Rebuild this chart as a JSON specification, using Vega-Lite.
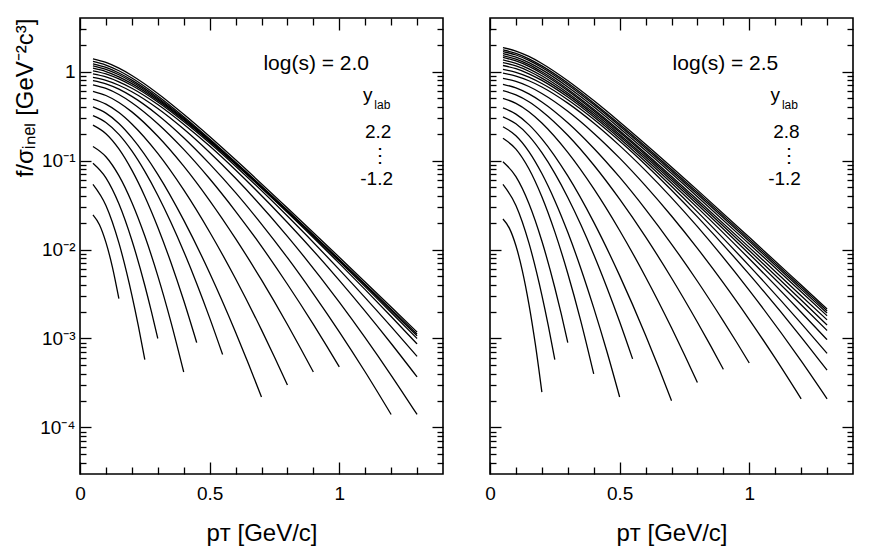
{
"$schema": "https://vega.github.io/schema/vega-lite/v6.json",
"padding": {"left": 12, "top": 16, "right": 5, "bottom": 5},
"background": "white",
"config": {
 "font": "Liberation Sans",
 "view": {"stroke": "black", "strokeWidth": 1.6},
 "axis": {"domain": false, "grid": false, "tickColor": "black", "tickWidth": 1.3, "labelColor": "black", "titleColor": "black", "labelFont": "Liberation Sans", "titleFont": "Liberation Sans", "titleFontWeight": "normal", "labelFlush": false, "labelOverlap": false}
},
"spacing": 47,
"bounds": "flush",
"datasets": {
"L": [
{"c":1,"p":0.05,"f":0.0245},{"c":1,"p":0.075,"f":0.019},{"c":1,"p":0.1,"f":0.01202},{"c":1,"p":0.125,"f":0.00635},{"c":1,"p":0.15,"f":0.0028},
{"c":2,"p":0.05,"f":0.054},{"c":2,"p":0.1,"f":0.03126},{"c":2,"p":0.15,"f":0.01186},{"c":2,"p":0.2,"f":0.003076},{"c":2,"p":0.225,"f":0.001387},{"c":2,"p":0.25,"f":0.00058},
{"c":3,"p":0.05,"f":0.093},{"c":3,"p":0.1,"f":0.0638},{"c":3,"p":0.15,"f":0.0326},{"c":3,"p":0.2,"f":0.0127},{"c":3,"p":0.25,"f":0.00394},{"c":3,"p":0.275,"f":0.00203},{"c":3,"p":0.3,"f":0.001},
{"c":4,"p":0.05,"f":0.144},{"c":4,"p":0.1,"f":0.1104},{"c":4,"p":0.15,"f":0.0676},{"c":4,"p":0.2,"f":0.0338},{"c":4,"p":0.25,"f":0.01416},{"c":4,"p":0.3,"f":0.00506},{"c":4,"p":0.35,"f":0.00156},{"c":4,"p":0.4,"f":0.00042},
{"c":5,"p":0.05,"f":0.25},{"c":5,"p":0.1,"f":0.2004},{"c":5,"p":0.15,"f":0.1352},{"c":5,"p":0.2,"f":0.078},{"c":5,"p":0.25,"f":0.0395},{"c":5,"p":0.3,"f":0.01782},{"c":5,"p":0.35,"f":0.00724},{"c":5,"p":0.4,"f":0.00267},{"c":5,"p":0.45,"f":0.0009},
{"c":6,"p":0.05,"f":0.32},{"c":6,"p":0.1,"f":0.268},{"c":6,"p":0.15,"f":0.1968},{"c":6,"p":0.2,"f":0.1282},{"c":6,"p":0.25,"f":0.0755},{"c":6,"p":0.3,"f":0.0408},{"c":6,"p":0.35,"f":0.0204},{"c":6,"p":0.4,"f":0.00953},{"c":6,"p":0.45,"f":0.00416},{"c":6,"p":0.5,"f":0.001706},{"c":6,"p":0.55,"f":0.00066},
{"c":7,"p":0.05,"f":0.40},{"c":7,"p":0.1,"f":0.341},{"c":7,"p":0.15,"f":0.261},{"c":7,"p":0.2,"f":0.181},{"c":7,"p":0.3,"f":0.070},{"c":7,"p":0.4,"f":0.0214},{"c":7,"p":0.5,"f":0.00545},{"c":7,"p":0.6,"f":0.001178},{"c":7,"p":0.65,"f":0.000518},{"c":7,"p":0.7,"f":0.00022},
{"c":8,"p":0.05,"f":0.49},{"c":8,"p":0.1,"f":0.4305},{"c":8,"p":0.15,"f":0.346},{"c":8,"p":0.2,"f":0.2576},{"c":8,"p":0.3,"f":0.1202},{"c":8,"p":0.4,"f":0.0467},{"c":8,"p":0.5,"f":0.01574},{"c":8,"p":0.6,"f":0.00469},{"c":8,"p":0.7,"f":0.00125},{"c":8,"p":0.75,"f":0.000619},{"c":8,"p":0.8,"f":0.0003},
{"c":9,"p":0.05,"f":0.60},{"c":9,"p":0.1,"f":0.5383},{"c":9,"p":0.15,"f":0.4498},{"c":9,"p":0.2,"f":0.3524},{"c":9,"p":0.3,"f":0.1875},{"c":9,"p":0.4,"f":0.0865},{"c":9,"p":0.5,"f":0.0355},{"c":9,"p":0.6,"f":0.01327},{"c":9,"p":0.7,"f":0.00455},{"c":9,"p":0.8,"f":0.001436},{"c":9,"p":0.85,"f":0.000783},{"c":9,"p":0.9,"f":0.00042},
{"c":10,"p":0.05,"f":0.71},{"c":10,"p":0.1,"f":0.6457},{"c":10,"p":0.15,"f":0.5521},{"c":10,"p":0.2,"f":0.4467},{"c":10,"p":0.3,"f":0.2594},{"c":10,"p":0.4,"f":0.1334},{"c":10,"p":0.5,"f":0.0624},{"c":10,"p":0.6,"f":0.0269},{"c":10,"p":0.7,"f":0.01084},{"c":10,"p":0.8,"f":0.00407},{"c":10,"p":0.9,"f":0.001442},{"c":10,"p":0.95,"f":0.000839},{"c":10,"p":1.0,"f":0.00048},
{"c":11,"p":0.05,"f":0.79},{"c":11,"p":0.1,"f":0.7278},{"c":11,"p":0.15,"f":0.6339},{"c":11,"p":0.2,"f":0.526},{"c":11,"p":0.3,"f":0.3258},{"c":11,"p":0.4,"f":0.1807},{"c":11,"p":0.5,"f":0.0918},{"c":11,"p":0.6,"f":0.0436},{"c":11,"p":0.7,"f":0.01932},{"c":11,"p":0.8,"f":0.00809},{"c":11,"p":0.9,"f":0.00318},{"c":11,"p":1.0,"f":0.001189},{"c":11,"p":1.1,"f":0.00042},{"c":11,"p":1.2,"f":0.00014},
{"c":12,"p":0.05,"f":0.86},{"c":12,"p":0.1,"f":0.796},{"c":12,"p":0.15,"f":0.7015},{"c":12,"p":0.2,"f":0.593},{"c":12,"p":0.3,"f":0.3846},{"c":12,"p":0.4,"f":0.226},{"c":12,"p":0.5,"f":0.1233},{"c":12,"p":0.6,"f":0.0632},{"c":12,"p":0.8,"f":0.01406},{"c":12,"p":1.0,"f":0.00256},{"c":12,"p":1.2,"f":0.000386},{"c":12,"p":1.3,"f":0.00014},
{"c":13,"p":0.05,"f":0.94},{"c":13,"p":0.1,"f":0.869},{"c":13,"p":0.15,"f":0.7674},{"c":13,"p":0.2,"f":0.6501},{"c":13,"p":0.3,"f":0.4266},{"c":13,"p":0.4,"f":0.2564},{"c":13,"p":0.5,"f":0.1455},{"c":13,"p":0.6,"f":0.0783},{"c":13,"p":0.8,"f":0.02014},{"c":13,"p":1.0,"f":0.0045},{"c":13,"p":1.2,"f":0.000879},{"c":13,"p":1.3,"f":0.00037},
{"c":14,"p":0.05,"f":1.02},{"c":14,"p":0.1,"f":0.9419},{"c":14,"p":0.15,"f":0.826},{"c":14,"p":0.2,"f":0.6966},{"c":14,"p":0.3,"f":0.455},{"c":14,"p":0.4,"f":0.2742},{"c":14,"p":0.5,"f":0.157},{"c":14,"p":0.6,"f":0.0863},{"c":14,"p":0.8,"f":0.02377},{"c":14,"p":1.0,"f":0.00594},{"c":14,"p":1.2,"f":0.001358},{"c":14,"p":1.3,"f":0.00063},
{"c":15,"p":0.05,"f":1.09},{"c":15,"p":0.1,"f":1.0},{"c":15,"p":0.15,"f":0.873},{"c":15,"p":0.2,"f":0.7328},{"c":15,"p":0.3,"f":0.4742},{"c":15,"p":0.4,"f":0.2851},{"c":15,"p":0.5,"f":0.1637},{"c":15,"p":0.6,"f":0.0908},{"c":15,"p":0.8,"f":0.02606},{"c":15,"p":1.0,"f":0.00698},{"c":15,"p":1.2,"f":0.001766},{"c":15,"p":1.3,"f":0.00087},
{"c":16,"p":0.05,"f":1.16},{"c":16,"p":0.1,"f":1.059},{"c":16,"p":0.15,"f":0.9204},{"c":16,"p":0.2,"f":0.7691},{"c":16,"p":0.3,"f":0.4909},{"c":16,"p":0.4,"f":0.2924},{"c":16,"p":0.5,"f":0.1663},{"c":16,"p":0.6,"f":0.092},{"c":16,"p":0.8,"f":0.02667},{"c":16,"p":1.0,"f":0.00736},{"c":16,"p":1.2,"f":0.001959},{"c":16,"p":1.3,"f":0.001},
{"c":17,"p":0.05,"f":1.22},{"c":17,"p":0.1,"f":1.112},{"c":17,"p":0.15,"f":0.9638},{"c":17,"p":0.2,"f":0.8017},{"c":17,"p":0.3,"f":0.5082},{"c":17,"p":0.4,"f":0.2999},{"c":17,"p":0.5,"f":0.1702},{"c":17,"p":0.6,"f":0.0938},{"c":17,"p":0.8,"f":0.02723},{"c":17,"p":1.0,"f":0.00759},{"c":17,"p":1.2,"f":0.002065},{"c":17,"p":1.3,"f":0.00107},
{"c":18,"p":0.05,"f":1.30},{"c":18,"p":0.1,"f":1.183},{"c":18,"p":0.15,"f":1.021},{"c":18,"p":0.2,"f":0.8453},{"c":18,"p":0.3,"f":0.5309},{"c":18,"p":0.4,"f":0.3105},{"c":18,"p":0.5,"f":0.1746},{"c":18,"p":0.6,"f":0.0957},{"c":18,"p":0.8,"f":0.0276},{"c":18,"p":1.0,"f":0.00774},{"c":18,"p":1.2,"f":0.002138},{"c":18,"p":1.3,"f":0.00112},
{"c":19,"p":0.05,"f":1.39},{"c":19,"p":0.1,"f":1.265},{"c":19,"p":0.15,"f":1.091},{"c":19,"p":0.2,"f":0.9036},{"c":19,"p":0.3,"f":0.5675},{"c":19,"p":0.4,"f":0.3311},{"c":19,"p":0.5,"f":0.1862},{"c":19,"p":0.6,"f":0.1019},{"c":19,"p":0.8,"f":0.0293},{"c":19,"p":1.0,"f":0.0082},{"c":19,"p":1.2,"f":0.00226},{"c":19,"p":1.3,"f":0.00118}
],
"R": [
{"c":1,"p":0.05,"f":0.022},{"c":1,"p":0.075,"f":0.0173},{"c":1,"p":0.1,"f":0.01102},{"c":1,"p":0.125,"f":0.00573},{"c":1,"p":0.15,"f":0.00244},{"c":1,"p":0.175,"f":0.000857},{"c":1,"p":0.2,"f":0.00025},
{"c":2,"p":0.05,"f":0.054},{"c":2,"p":0.1,"f":0.03126},{"c":2,"p":0.15,"f":0.01186},{"c":2,"p":0.2,"f":0.003076},{"c":2,"p":0.225,"f":0.001387},{"c":2,"p":0.25,"f":0.00058},
{"c":3,"p":0.05,"f":0.097},{"c":3,"p":0.1,"f":0.0659},{"c":3,"p":0.15,"f":0.0329},{"c":3,"p":0.2,"f":0.01245},{"c":3,"p":0.25,"f":0.00372},{"c":3,"p":0.275,"f":0.001875},{"c":3,"p":0.3,"f":0.0009},
{"c":4,"p":0.05,"f":0.178},{"c":4,"p":0.1,"f":0.1346},{"c":4,"p":0.15,"f":0.0809},{"c":4,"p":0.2,"f":0.0392},{"c":4,"p":0.25,"f":0.01578},{"c":4,"p":0.3,"f":0.00538},{"c":4,"p":0.35,"f":0.001578},{"c":4,"p":0.4,"f":0.0004},
{"c":5,"p":0.05,"f":0.24},{"c":5,"p":0.1,"f":0.1901},{"c":5,"p":0.15,"f":0.1262},{"c":5,"p":0.2,"f":0.0714},{"c":5,"p":0.25,"f":0.0354},{"c":5,"p":0.3,"f":0.0156},{"c":5,"p":0.35,"f":0.00617},{"c":5,"p":0.4,"f":0.00221},{"c":5,"p":0.45,"f":0.000728},{"c":5,"p":0.5,"f":0.00022},
{"c":6,"p":0.05,"f":0.31},{"c":6,"p":0.1,"f":0.2588},{"c":6,"p":0.15,"f":0.1892},{"c":6,"p":0.2,"f":0.1225},{"c":6,"p":0.25,"f":0.0718},{"c":6,"p":0.3,"f":0.0385},{"c":6,"p":0.35,"f":0.0191},{"c":6,"p":0.4,"f":0.00881},{"c":6,"p":0.45,"f":0.0038},{"c":6,"p":0.5,"f":0.001545},{"c":6,"p":0.55,"f":0.00059},
{"c":7,"p":0.05,"f":0.39},{"c":7,"p":0.1,"f":0.3327},{"c":7,"p":0.15,"f":0.2535},{"c":7,"p":0.2,"f":0.1754},{"c":7,"p":0.3,"f":0.0671},{"c":7,"p":0.4,"f":0.0203},{"c":7,"p":0.5,"f":0.00509},{"c":7,"p":0.6,"f":0.001089},{"c":7,"p":0.65,"f":0.000475},{"c":7,"p":0.7,"f":0.0002},
{"c":8,"p":0.05,"f":0.5},{"c":8,"p":0.1,"f":0.4395},{"c":8,"p":0.15,"f":0.354},{"c":8,"p":0.2,"f":0.2642},{"c":8,"p":0.3,"f":0.1236},{"c":8,"p":0.4,"f":0.0483},{"c":8,"p":0.5,"f":0.01637},{"c":8,"p":0.6,"f":0.00492},{"c":8,"p":0.7,"f":0.001321},{"c":8,"p":0.75,"f":0.000658},{"c":8,"p":0.8,"f":0.00032},
{"c":9,"p":0.05,"f":0.61},{"c":9,"p":0.1,"f":0.547},{"c":9,"p":0.15,"f":0.4581},{"c":9,"p":0.2,"f":0.3589},{"c":9,"p":0.3,"f":0.1923},{"c":9,"p":0.4,"f":0.0891},{"c":9,"p":0.5,"f":0.0368},{"c":9,"p":0.6,"f":0.01387},{"c":9,"p":0.7,"f":0.00479},{"c":9,"p":0.8,"f":0.001524},{"c":9,"p":0.85,"f":0.000836},{"c":9,"p":0.9,"f":0.00045},
{"c":10,"p":0.05,"f":0.72},{"c":10,"p":0.1,"f":0.6546},{"c":10,"p":0.15,"f":0.561},{"c":10,"p":0.2,"f":0.456},{"c":10,"p":0.3,"f":0.2661},{"c":10,"p":0.4,"f":0.1377},{"c":10,"p":0.5,"f":0.065},{"c":10,"p":0.6,"f":0.0283},{"c":10,"p":0.7,"f":0.01153},{"c":10,"p":0.8,"f":0.0044},{"c":10,"p":0.9,"f":0.00157},{"c":10,"p":0.95,"f":0.00092},{"c":10,"p":1.0,"f":0.00053},
{"c":11,"p":0.05,"f":0.84},{"c":11,"p":0.1,"f":0.7745},{"c":11,"p":0.15,"f":0.6792},{"c":11,"p":0.2,"f":0.5675},{"c":11,"p":0.3,"f":0.3581},{"c":11,"p":0.4,"f":0.2032},{"c":11,"p":0.5,"f":0.1064},{"c":11,"p":0.6,"f":0.0519},{"c":11,"p":0.7,"f":0.0238},{"c":11,"p":0.8,"f":0.0103},{"c":11,"p":0.9,"f":0.00422},{"c":11,"p":1.0,"f":0.001633},{"c":11,"p":1.1,"f":0.000601},{"c":11,"p":1.2,"f":0.00021},
{"c":12,"p":0.05,"f":0.96},{"c":12,"p":0.1,"f":0.8913},{"c":12,"p":0.15,"f":0.7889},{"c":12,"p":0.2,"f":0.6714},{"c":12,"p":0.3,"f":0.4416},{"c":12,"p":0.4,"f":0.2642},{"c":12,"p":0.5,"f":0.1472},{"c":12,"p":0.6,"f":0.0771},{"c":12,"p":0.8,"f":0.01807},{"c":12,"p":1.0,"f":0.00348},{"c":12,"p":1.2,"f":0.00056},{"c":12,"p":1.3,"f":0.00021},
{"c":13,"p":0.05,"f":1.06},{"c":13,"p":0.1,"f":0.9795},{"c":13,"p":0.15,"f":0.865},{"c":13,"p":0.2,"f":0.7345},{"c":13,"p":0.3,"f":0.4831},{"c":13,"p":0.4,"f":0.2917},{"c":13,"p":0.5,"f":0.166},{"c":13,"p":0.6,"f":0.0899},{"c":13,"p":0.8,"f":0.0233},{"c":13,"p":1.0,"f":0.00525},{"c":13,"p":1.2,"f":0.001038},{"c":13,"p":1.3,"f":0.00044},
{"c":14,"p":0.05,"f":1.17},{"c":14,"p":0.1,"f":1.076},{"c":14,"p":0.15,"f":0.9441},{"c":14,"p":0.2,"f":0.7962},{"c":14,"p":0.3,"f":0.5176},{"c":14,"p":0.4,"f":0.3105},{"c":14,"p":0.5,"f":0.177},{"c":14,"p":0.6,"f":0.0968},{"c":14,"p":0.8,"f":0.02649},{"c":14,"p":1.0,"f":0.00655},{"c":14,"p":1.2,"f":0.001479},{"c":14,"p":1.3,"f":0.00068},
{"c":15,"p":0.05,"f":1.26},{"c":15,"p":0.1,"f":1.156},{"c":15,"p":0.15,"f":1.009},{"c":15,"p":0.2,"f":0.8453},{"c":15,"p":0.3,"f":0.547},{"c":15,"p":0.4,"f":0.3273},{"c":15,"p":0.5,"f":0.1875},{"c":15,"p":0.6,"f":0.1035},{"c":15,"p":0.8,"f":0.02958},{"c":15,"p":1.0,"f":0.00787},{"c":15,"p":1.2,"f":0.001972},{"c":15,"p":1.3,"f":0.00097},
{"c":16,"p":0.05,"f":1.35},{"c":16,"p":0.1,"f":1.233},{"c":16,"p":0.15,"f":1.074},{"c":16,"p":0.2,"f":0.8974},{"c":16,"p":0.3,"f":0.5754},{"c":16,"p":0.4,"f":0.3436},{"c":16,"p":0.5,"f":0.1968},{"c":16,"p":0.6,"f":0.1094},{"c":16,"p":0.8,"f":0.032},{"c":16,"p":1.0,"f":0.00891},{"c":16,"p":1.2,"f":0.0024},{"c":16,"p":1.3,"f":0.00123},
{"c":17,"p":0.05,"f":1.44},{"c":17,"p":0.1,"f":1.315},{"c":17,"p":0.15,"f":1.143},{"c":17,"p":0.2,"f":0.9528},{"c":17,"p":0.3,"f":0.6095},{"c":17,"p":0.4,"f":0.3631},{"c":17,"p":0.5,"f":0.2075},{"c":17,"p":0.6,"f":0.1156},{"c":17,"p":0.8,"f":0.0342},{"c":17,"p":1.0,"f":0.00975},{"c":17,"p":1.2,"f":0.00271},{"c":17,"p":1.3,"f":0.00142},
{"c":18,"p":0.05,"f":1.51},{"c":18,"p":0.1,"f":1.377},{"c":18,"p":0.15,"f":1.197},{"c":18,"p":0.2,"f":0.9954},{"c":18,"p":0.3,"f":0.6339},{"c":18,"p":0.4,"f":0.3776},{"c":18,"p":0.5,"f":0.2163},{"c":18,"p":0.6,"f":0.1208},{"c":18,"p":0.8,"f":0.0362},{"c":18,"p":1.0,"f":0.01057},{"c":18,"p":1.2,"f":0.00303},{"c":18,"p":1.3,"f":0.00162},
{"c":19,"p":0.05,"f":1.59},{"c":19,"p":0.1,"f":1.452},{"c":19,"p":0.15,"f":1.259},{"c":19,"p":0.2,"f":1.05},{"c":19,"p":0.3,"f":0.6714},{"c":19,"p":0.4,"f":0.4018},{"c":19,"p":0.5,"f":0.2307},{"c":19,"p":0.6,"f":0.1294},{"c":19,"p":0.8,"f":0.0392},{"c":19,"p":1.0,"f":0.01153},{"c":19,"p":1.2,"f":0.00335},{"c":19,"p":1.3,"f":0.0018},
{"c":20,"p":0.05,"f":1.68},{"c":20,"p":0.1,"f":1.535},{"c":20,"p":0.15,"f":1.334},{"c":20,"p":0.2,"f":1.112},{"c":20,"p":0.3,"f":0.7112},{"c":20,"p":0.4,"f":0.4256},{"c":20,"p":0.5,"f":0.2449},{"c":20,"p":0.6,"f":0.1377},{"c":20,"p":0.8,"f":0.0418},{"c":20,"p":1.0,"f":0.01236},{"c":20,"p":1.2,"f":0.00359},{"c":20,"p":1.3,"f":0.00193},
{"c":21,"p":0.05,"f":1.75},{"c":21,"p":0.1,"f":1.60},{"c":21,"p":0.15,"f":1.39},{"c":21,"p":0.2,"f":1.159},{"c":21,"p":0.3,"f":0.743},{"c":21,"p":0.4,"f":0.4446},{"c":21,"p":0.5,"f":0.2564},{"c":21,"p":0.6,"f":0.1442},{"c":21,"p":0.8,"f":0.0439},{"c":21,"p":1.0,"f":0.013},{"c":21,"p":1.2,"f":0.00379},{"c":21,"p":1.3,"f":0.00204},
{"c":22,"p":0.05,"f":1.86},{"c":22,"p":0.1,"f":1.702},{"c":22,"p":0.15,"f":1.479},{"c":22,"p":0.2,"f":1.233},{"c":22,"p":0.3,"f":0.7889},{"c":22,"p":0.4,"f":0.4721},{"c":22,"p":0.5,"f":0.2716},{"c":22,"p":0.6,"f":0.1528},{"c":22,"p":0.8,"f":0.0465},{"c":22,"p":1.0,"f":0.01371},{"c":22,"p":1.2,"f":0.00399},{"c":22,"p":1.3,"f":0.00215}
]
},
"hconcat": [
{
 "width": 363, "height": 456,
 "data": {"name": "L"},
 "resolve": {"axis": {"x": "independent", "y": "independent"}},
 "layer": [
  {"mark": {"type": "line", "stroke": "black", "strokeWidth": 1.3, "interpolate": "monotone"},
   "encoding": {
    "x": {"field": "p", "type": "quantitative", "scale": {"domain": [0, 1.4], "nice": false, "zero": false},
          "axis": {"orient": "bottom", "values": [0, 0.5, 1], "format": "~g", "tickSize": -12, "labelPadding": 22, "labelFontSize": 19, "title": "pᴛ [GeV/c]", "titleFontSize": 24, "titlePadding": 18}},
    "y": {"field": "f", "type": "quantitative", "scale": {"type": "log", "domain": [0.00003, 4], "nice": false},
          "axis": {"orient": "left", "values": [0.0001, 0.001, 0.01, 0.1, 1], "tickSize": -11, "labelPadding": 16, "labelFontSize": 19, "labelBaseline": "middle",
                   "labelExpr": "datum.value > 0.5 ? '1' : datum.value > 0.05 ? '10⁻¹' : datum.value > 0.005 ? '10⁻²' : datum.value > 0.0005 ? '10⁻³' : '10⁻⁴'",
                   "title": "f/σᵢₙₑₗ [GeV⁻²c³]", "titleFontSize": 24, "titleAnchor": "end", "titlePadding": 2}},
    "detail": {"field": "c", "type": "nominal"}
   }},
  {"mark": {"type": "point", "opacity": 0},
   "encoding": {
    "x": {"field": "p", "type": "quantitative", "axis": {"orient": "bottom", "values": [0.1,0.2,0.3,0.4,0.6,0.7,0.8,0.9,1.1,1.2,1.3], "tickSize": -7, "labels": false, "title": null}},
    "y": {"field": "f", "type": "quantitative", "scale": {"type": "log"}, "axis": {"orient": "left", "values": [0.00004,0.00005,0.00006,0.00007,0.00008,0.00009,0.0002,0.0003,0.0004,0.0005,0.0006,0.0007,0.0008,0.0009,0.002,0.003,0.004,0.005,0.006,0.007,0.008,0.009,0.02,0.03,0.04,0.05,0.06,0.07,0.08,0.09,0.2,0.3,0.4,0.5,0.6,0.7,0.8,0.9,2,3], "tickSize": -6, "labels": false, "title": null}}
   }},
  {"mark": {"type": "point", "opacity": 0},
   "encoding": {
    "x": {"field": "p", "type": "quantitative", "axis": {"orient": "top", "values": [0, 0.5, 1], "tickSize": -12, "labels": false, "title": null}},
    "y": {"field": "f", "type": "quantitative", "scale": {"type": "log"}, "axis": {"orient": "right", "values": [0.0001, 0.001, 0.01, 0.1, 1], "tickSize": -11, "labels": false, "title": null}}
   }},
  {"mark": {"type": "point", "opacity": 0},
   "encoding": {
    "x": {"field": "p", "type": "quantitative", "axis": {"orient": "top", "values": [0.1,0.2,0.3,0.4,0.6,0.7,0.8,0.9,1.1,1.2,1.3], "tickSize": -7, "labels": false, "title": null}},
    "y": {"field": "f", "type": "quantitative", "scale": {"type": "log"}, "axis": {"orient": "right", "values": [0.00004,0.00005,0.00006,0.00007,0.00008,0.00009,0.0002,0.0003,0.0004,0.0005,0.0006,0.0007,0.0008,0.0009,0.002,0.003,0.004,0.005,0.006,0.007,0.008,0.009,0.02,0.03,0.04,0.05,0.06,0.07,0.08,0.09,0.2,0.3,0.4,0.5,0.6,0.7,0.8,0.9,2,3], "tickSize": -6, "labels": false, "title": null}}
   }},
  {"data": {"values": [{"t": "log(s) = 2.0"}]}, "mark": {"type": "text", "fontSize": 21, "align": "center", "baseline": "alphabetic", "color": "black"},
   "encoding": {"x": {"datum": 0.911, "type": "quantitative", "axis": null}, "y": {"datum": 1.045, "type": "quantitative", "axis": null}, "text": {"field": "t"}}},
  {"data": {"values": [{"t": "y"}]}, "mark": {"type": "text", "fontSize": 19, "align": "left", "baseline": "alphabetic", "color": "black"},
   "encoding": {"x": {"datum": 1.091, "type": "quantitative", "axis": null}, "y": {"datum": 0.461, "type": "quantitative", "axis": null}, "text": {"field": "t"}}},
  {"data": {"values": [{"t": "lab"}]}, "mark": {"type": "text", "fontSize": 12, "align": "left", "baseline": "alphabetic", "color": "black"},
   "encoding": {"x": {"datum": 1.135, "type": "quantitative", "axis": null}, "y": {"datum": 0.375, "type": "quantitative", "axis": null}, "text": {"field": "t"}}},
  {"data": {"values": [{"t": "2.2"}]}, "mark": {"type": "text", "fontSize": 19, "align": "center", "baseline": "alphabetic", "color": "black"},
   "encoding": {"x": {"datum": 1.15, "type": "quantitative", "axis": null}, "y": {"datum": 0.1786, "type": "quantitative", "axis": null}, "text": {"field": "t"}}},
  {"data": {"values": [{"t": "⋮"}]}, "mark": {"type": "text", "fontSize": 20, "align": "center", "baseline": "alphabetic", "color": "black"},
   "encoding": {"x": {"datum": 1.156, "type": "quantitative", "axis": null}, "y": {"datum": 0.097, "type": "quantitative", "axis": null}, "text": {"field": "t"}}},
  {"data": {"values": [{"t": "-1.2"}]}, "mark": {"type": "text", "fontSize": 19, "align": "center", "baseline": "alphabetic", "color": "black"},
   "encoding": {"x": {"datum": 1.144, "type": "quantitative", "axis": null}, "y": {"datum": 0.0536, "type": "quantitative", "axis": null}, "text": {"field": "t"}}}
 ]
},
{
 "width": 363, "height": 456,
 "data": {"name": "R"},
 "resolve": {"axis": {"x": "independent", "y": "independent"}},
 "layer": [
  {"mark": {"type": "line", "stroke": "black", "strokeWidth": 1.3, "interpolate": "monotone"},
   "encoding": {
    "x": {"field": "p", "type": "quantitative", "scale": {"domain": [0, 1.4], "nice": false, "zero": false},
          "axis": {"orient": "bottom", "values": [0, 0.5, 1], "format": "~g", "tickSize": -12, "labelPadding": 22, "labelFontSize": 19, "title": "pᴛ [GeV/c]", "titleFontSize": 24, "titlePadding": 18}},
    "y": {"field": "f", "type": "quantitative", "scale": {"type": "log", "domain": [0.00003, 4], "nice": false},
          "axis": {"orient": "left", "values": [0.0001, 0.001, 0.01, 0.1, 1], "tickSize": -11, "labels": false, "title": null}},
    "detail": {"field": "c", "type": "nominal"}
   }},
  {"mark": {"type": "point", "opacity": 0},
   "encoding": {
    "x": {"field": "p", "type": "quantitative", "axis": {"orient": "bottom", "values": [0.1,0.2,0.3,0.4,0.6,0.7,0.8,0.9,1.1,1.2,1.3], "tickSize": -7, "labels": false, "title": null}},
    "y": {"field": "f", "type": "quantitative", "scale": {"type": "log"}, "axis": {"orient": "left", "values": [0.00004,0.00005,0.00006,0.00007,0.00008,0.00009,0.0002,0.0003,0.0004,0.0005,0.0006,0.0007,0.0008,0.0009,0.002,0.003,0.004,0.005,0.006,0.007,0.008,0.009,0.02,0.03,0.04,0.05,0.06,0.07,0.08,0.09,0.2,0.3,0.4,0.5,0.6,0.7,0.8,0.9,2,3], "tickSize": -6, "labels": false, "title": null}}
   }},
  {"mark": {"type": "point", "opacity": 0},
   "encoding": {
    "x": {"field": "p", "type": "quantitative", "axis": {"orient": "top", "values": [0, 0.5, 1], "tickSize": -12, "labels": false, "title": null}},
    "y": {"field": "f", "type": "quantitative", "scale": {"type": "log"}, "axis": {"orient": "right", "values": [0.0001, 0.001, 0.01, 0.1, 1], "tickSize": -11, "labels": false, "title": null}}
   }},
  {"mark": {"type": "point", "opacity": 0},
   "encoding": {
    "x": {"field": "p", "type": "quantitative", "axis": {"orient": "top", "values": [0.1,0.2,0.3,0.4,0.6,0.7,0.8,0.9,1.1,1.2,1.3], "tickSize": -7, "labels": false, "title": null}},
    "y": {"field": "f", "type": "quantitative", "scale": {"type": "log"}, "axis": {"orient": "right", "values": [0.00004,0.00005,0.00006,0.00007,0.00008,0.00009,0.0002,0.0003,0.0004,0.0005,0.0006,0.0007,0.0008,0.0009,0.002,0.003,0.004,0.005,0.006,0.007,0.008,0.009,0.02,0.03,0.04,0.05,0.06,0.07,0.08,0.09,0.2,0.3,0.4,0.5,0.6,0.7,0.8,0.9,2,3], "tickSize": -6, "labels": false, "title": null}}
   }},
  {"data": {"values": [{"t": "log(s) = 2.5"}]}, "mark": {"type": "text", "fontSize": 21, "align": "center", "baseline": "alphabetic", "color": "black"},
   "encoding": {"x": {"datum": 0.908, "type": "quantitative", "axis": null}, "y": {"datum": 1.045, "type": "quantitative", "axis": null}, "text": {"field": "t"}}},
  {"data": {"values": [{"t": "y"}]}, "mark": {"type": "text", "fontSize": 19, "align": "left", "baseline": "alphabetic", "color": "black"},
   "encoding": {"x": {"datum": 1.082, "type": "quantitative", "axis": null}, "y": {"datum": 0.461, "type": "quantitative", "axis": null}, "text": {"field": "t"}}},
  {"data": {"values": [{"t": "lab"}]}, "mark": {"type": "text", "fontSize": 12, "align": "left", "baseline": "alphabetic", "color": "black"},
   "encoding": {"x": {"datum": 1.126, "type": "quantitative", "axis": null}, "y": {"datum": 0.375, "type": "quantitative", "axis": null}, "text": {"field": "t"}}},
  {"data": {"values": [{"t": "2.8"}]}, "mark": {"type": "text", "fontSize": 19, "align": "center", "baseline": "alphabetic", "color": "black"},
   "encoding": {"x": {"datum": 1.143, "type": "quantitative", "axis": null}, "y": {"datum": 0.1786, "type": "quantitative", "axis": null}, "text": {"field": "t"}}},
  {"data": {"values": [{"t": "⋮"}]}, "mark": {"type": "text", "fontSize": 20, "align": "center", "baseline": "alphabetic", "color": "black"},
   "encoding": {"x": {"datum": 1.152, "type": "quantitative", "axis": null}, "y": {"datum": 0.097, "type": "quantitative", "axis": null}, "text": {"field": "t"}}},
  {"data": {"values": [{"t": "-1.2"}]}, "mark": {"type": "text", "fontSize": 19, "align": "center", "baseline": "alphabetic", "color": "black"},
   "encoding": {"x": {"datum": 1.136, "type": "quantitative", "axis": null}, "y": {"datum": 0.0536, "type": "quantitative", "axis": null}, "text": {"field": "t"}}}
 ]
}
]
}
